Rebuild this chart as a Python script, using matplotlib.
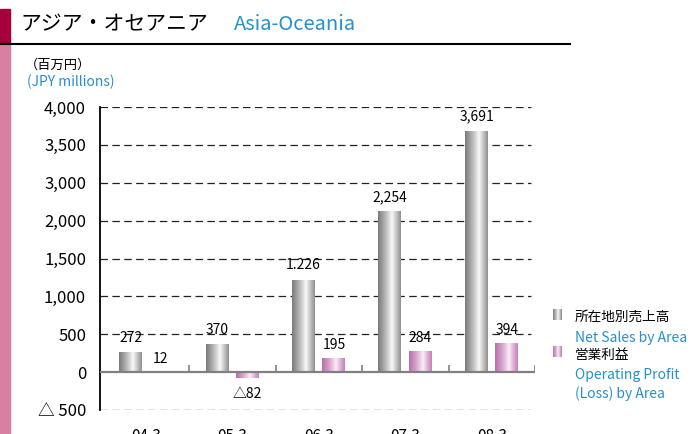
import numpy as np
import matplotlib
matplotlib.use("Agg")
import matplotlib.pyplot as plt
from matplotlib.colors import LinearSegmentedColormap
from matplotlib.patches import Rectangle
from matplotlib.lines import Line2D

plt.rcParams["font.family"] = ["Noto Sans CJK JP", "DejaVu Sans"]

# data
periods = ["04.3", "05.3", "06.3", "07.3", "08.3"]
net_sales = [272, 370, 1226, 2254, 3691]
op_profit = [12, -82, 195, 284, 394]
net_labels = ["272", "370", "1.226", "2,254", "3,691"]
op_labels = ["12", "△82", "195", "284", "394"]
y_ticks = [-500, 0, 500, 1000, 1500, 2000, 3000, 3500, 4000]
y_ticklabels = ["△ 500", "0", "500", "1,000", "1,500", "2,000", "3,000", "3,500", "4,000"]

BLUE = "#2590cc"
W, H = 691, 434


# the original axis skips 2,500: 2,000 -> 3,000 takes one grid step
def fwd(y):
    y = np.asarray(y, dtype=float)
    return np.where(y <= 2000, y, np.where(y <= 3000, 2000 + (y - 2000) / 2, y - 500))


def inv(v):
    v = np.asarray(v, dtype=float)
    return np.where(v <= 2000, v, np.where(v <= 2500, 2000 + (v - 2000) * 2, v + 500))


def px(x, y):
    return x / W, 1 - y / H


gray_cmap = LinearSegmentedColormap.from_list(
    "cyl_gray", [(0, "#7e7e7e"), (0.3, "#b8b8b8"), (0.58, "#f8f8f8"), (0.8, "#bdbdbd"), (1, "#858585")])
pink_cmap = LinearSegmentedColormap.from_list(
    "cyl_pink", [(0, "#bb72ad"), (0.3, "#d9a6cf"), (0.58, "#f9eef7"), (0.8, "#dcaad3"), (1, "#bf78b2")])
grad = np.linspace(0, 1, 64).reshape(1, -1)

fig = plt.figure(figsize=(W / 100, H / 100), dpi=100)

# side strip and title
fig.patches.append(Rectangle(px(0, 44), 10 / W, 35 / H, transform=fig.transFigure,
                             color="#a5003b", zorder=0))
fig.patches.append(Rectangle(px(0, H), 10 / W, (H - 44) / H, transform=fig.transFigure,
                             color="#d8809f", zorder=0))
fig.lines.append(Line2D([0, 570 / W], [1 - 44 / H] * 2, transform=fig.transFigure,
                        color="black", lw=1.5))
fig.text(*px(20, 24), "アジア・オセアニア", fontsize=15, va="center", ha="left")
fig.text(*px(234, 25), "Asia-Oceania", fontsize=14.5, color=BLUE, va="center", ha="left")
fig.text(*px(25, 65), "（百万円）", fontsize=9.5, va="center", ha="left")
fig.text(*px(27, 82), "(JPY millions)", fontsize=10, color=BLUE, va="center", ha="left")

# main axes
ax = fig.add_axes([100 / W, 1 - 410 / H, 435 / W, 303 / H])
ax.set_yscale("function", functions=(fwd, inv))

x = np.arange(len(periods))
bw = 0.27
off = 0.175
bars_net = ax.bar(x - off, net_sales, width=bw, color="none", linewidth=0, zorder=3)
bars_op = ax.bar(x + off, op_profit, width=bw, color="none", linewidth=0, zorder=3)

for bars, cmap in [(bars_net, gray_cmap), (bars_op, pink_cmap)]:
    for b in bars:
        x0, y0 = b.get_x(), b.get_y()
        y1 = y0 + b.get_height()
        im = ax.imshow(grad, cmap=cmap, extent=(x0, x0 + b.get_width(), min(y0, y1), max(y0, y1)),
                       aspect="auto", interpolation="bilinear", zorder=3)
        im.set_clip_path(b)

# value labels
for b, lab in zip(bars_net, net_labels):
    ax.annotate(lab, (b.get_x() + b.get_width() / 2, b.get_height()), xytext=(0, 5),
                textcoords="offset points", ha="center", va="bottom", fontsize=10)
for b, v, lab in zip(bars_op, op_profit, op_labels):
    if v >= 0:
        ax.annotate(lab, (b.get_x() + b.get_width() / 2, v), xytext=(0, 4),
                    textcoords="offset points", ha="center", va="bottom", fontsize=10)
    else:
        ax.annotate(lab, (b.get_x() + b.get_width() / 2, v), xytext=(0, -6),
                    textcoords="offset points", ha="center", va="top", fontsize=10)

# grid, zero line and group separators
for t in y_ticks:
    if t != 0:
        ax.axhline(t, xmax=0.99, color="#222222", lw=0.9, ls=(0, (6, 3.5)), zorder=1)
ax.axhline(0, color="#808080", lw=1.6, zorder=4)
ax.vlines(x + 0.5, 0, 95, color="#808080", lw=1.2, zorder=4)

ax.set_xlim(-0.53, 4.5)
ax.set_ylim(-500, 4000)
ax.set_yticks(y_ticks)
ax.set_yticklabels(y_ticklabels)
ax.yaxis.set_minor_locator(plt.NullLocator())
ax.set_xticks(x)
ax.set_xticklabels(periods)
ax.tick_params(axis="y", length=0, pad=10, labelsize=12)
ax.tick_params(axis="x", length=0, pad=13, labelsize=11)
for s in ["top", "right", "bottom"]:
    ax.spines[s].set_visible(False)
ax.spines["left"].set_linewidth(1.3)

# legend
for ypos, cmap in [(309, gray_cmap), (346, pink_cmap)]:
    lax = fig.add_axes([553 / W, 1 - (ypos + 11) / H, 9 / W, 11 / H])
    lax.imshow(grad, cmap=cmap, aspect="auto", interpolation="bilinear")
    lax.axis("off")
fig.text(*px(575, 317), "所在地別売上高", fontsize=9.8, va="center", ha="left")
fig.text(*px(575, 338), "Net Sales by Area", fontsize=10, color=BLUE, va="center", ha="left")
fig.text(*px(575, 355), "営業利益", fontsize=9.8, va="center", ha="left")
fig.text(*px(575, 375), "Operating Profit", fontsize=10, color=BLUE, va="center", ha="left")
fig.text(*px(575, 394), "(Loss) by Area", fontsize=10, color=BLUE, va="center", ha="left")

fig.savefig("out.png", dpi=100)
